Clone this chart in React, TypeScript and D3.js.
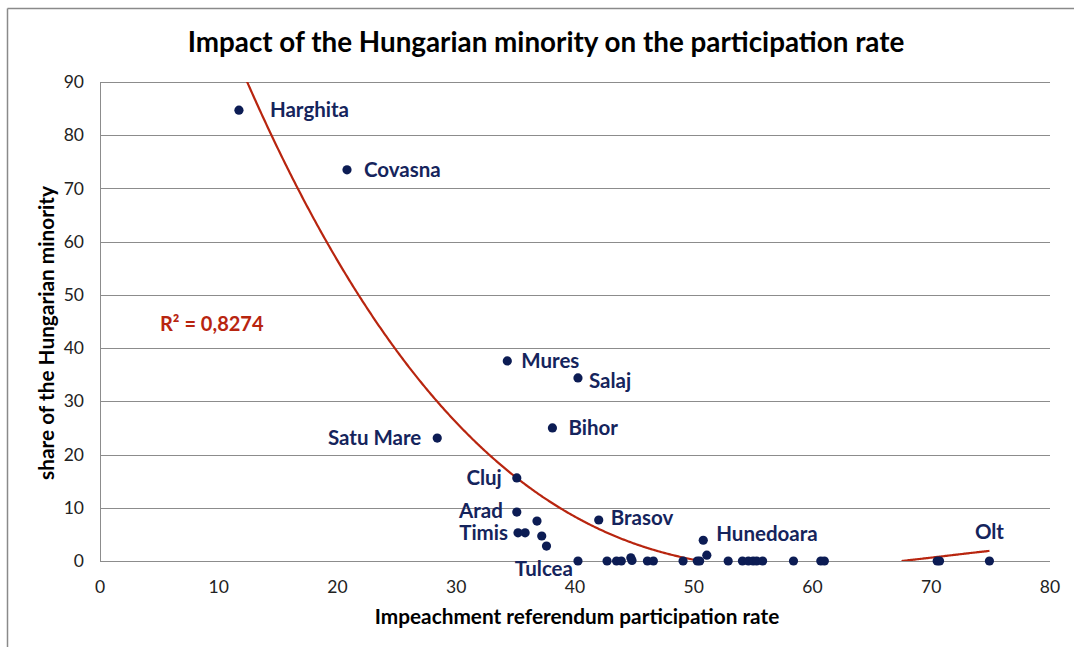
import React from 'react';
import * as d3 from 'd3';

// ---- data ----
const participation = [
  11.7, 20.8, 34.3, 40.25, 38.1, 28.4, 35.1, 35.1, 36.8, 42.0, 35.2, 35.8, 37.2, 37.6, 50.8, 51.1,
  40.25, 42.7, 43.5, 43.9, 44.7, 44.8, 46.1, 46.6, 49.1, 50.3, 50.5, 52.9, 54.1, 54.6, 55.0, 55.3,
  55.8, 58.4, 60.7, 61.0, 70.5, 70.7, 74.9,
];
const hungarianShare = [
  84.7, 73.5, 37.6, 34.4, 25.0, 23.1, 15.6, 9.2, 7.5, 7.7, 5.3, 5.3, 4.7, 2.8, 3.9, 1.1,
  0, 0, 0, 0, 0.6, 0.1, 0, 0, 0, 0, 0, 0, 0, 0, 0, 0,
  0, 0, 0, 0, 0, 0, 0,
];
const countyNames = [
  'Harghita', 'Covasna', 'Mures', 'Salaj', 'Bihor', 'Satu Mare', 'Cluj', 'Arad', '', 'Brasov', 'Timis', '', '', '', 'Hunedoara', '',
  'Tulcea', '', '', '', '', '', '', '', '', '', '', '', '', '', '', '',
  '', '', '', '', '', '', 'Olt',
];
const xTicks = [0, 10, 20, 30, 40, 50, 60, 70, 80];
const yTicks = [0, 10, 20, 30, 40, 50, 60, 70, 80, 90];
// polynomial (cubic) trendline, written as a * (x - r1)(x - r2)(x - r3)
const trendRoots = [50.6, 67.5, 95.4];
const trendA = -0.000515;
const rSquared = 'R² = 0,8274';

// ---- label placement (pixel offsets from the dot) ----
const labelPlacement: Record<string, { anchor: string; dx: number; dy: number }> = {
  Harghita: { anchor: 'start', dx: 31, dy: 0 },
  Covasna: { anchor: 'start', dx: 17, dy: 0 },
  Mures: { anchor: 'start', dx: 14, dy: 0 },
  Salaj: { anchor: 'start', dx: 11, dy: 3 },
  Bihor: { anchor: 'start', dx: 16, dy: 0 },
  'Satu Mare': { anchor: 'end', dx: -16, dy: 0 },
  Cluj: { anchor: 'end', dx: -15, dy: 0 },
  Arad: { anchor: 'end', dx: -14, dy: -1 },
  Timis: { anchor: 'end', dx: -10, dy: 0 },
  Brasov: { anchor: 'start', dx: 12, dy: -2 },
  Hunedoara: { anchor: 'start', dx: 13, dy: -6 },
  Tulcea: { anchor: 'end', dx: -5, dy: 7.5 },
  Olt: { anchor: 'middle', dx: 0, dy: -29 },
};

const W = 1074;
const H = 647;
const M = { left: 100, right: 1050, top: 82, bottom: 561 };
const FONT = 'Lato, "Open Sans", sans-serif';

export default function App() {
  const x = d3.scaleLinear().domain([0, 80]).range([M.left, M.right]);
  const y = d3.scaleLinear().domain([0, 90]).range([M.bottom, M.top]);

  const trend = (v: number) => trendA * (v - trendRoots[0]) * (v - trendRoots[1]) * (v - trendRoots[2]);
  const xMin = d3.min(participation) as number;
  const xMax = d3.max(participation) as number;
  const samples = d3.range(xMin, xMax, 0.1).concat([xMax]);
  const leftPart = samples.filter((v) => trend(v) >= 0 && v < trendRoots[0] + 0.5);
  const rightPart = samples.filter((v) => trend(v) >= 0 && v > trendRoots[1] - 0.5);
  const line = d3
    .line<number>()
    .x((v) => x(v))
    .y((v) => y(Math.max(0, trend(v))))
    .curve(d3.curveLinear);

  const gridColor = '#8c8c8c';
  const dotColor = '#0c1c54';
  const labelColor = '#15245c';
  const red = '#b8250f';
  const labelSize = 20.5;

  return (
    <svg width={W} height={H} style={{ position: 'absolute', left: 0, top: 0, background: '#fff' }}>
      <defs>
        <clipPath id="plotClip">
          <rect x={M.left} y={M.top} width={M.right - M.left} height={M.bottom - M.top} />
        </clipPath>
      </defs>
      {/* outer frame */}
      <line x1={7.5} x2={W} y1={8.5} y2={8.5} stroke="#8a8a8a" strokeWidth={1.5} />
      <line x1={7.5} x2={7.5} y1={8.5} y2={H} stroke="#8a8a8a" strokeWidth={1.5} />

      {/* title */}
      <text x={546} y={42} dy="0.35em" textAnchor="middle" fontFamily={FONT} fontWeight="bold" fontSize={27.8} fill="#000">
        Impact of the Hungarian minority on the participation rate
      </text>

      {/* gridlines */}
      {yTicks.map((t) => (
        <line key={'g' + t} x1={M.left} x2={M.right} y1={Math.round(y(t)) + 0.5} y2={Math.round(y(t)) + 0.5} stroke={gridColor} strokeWidth={1} />
      ))}
      <line x1={M.left + 0.5} x2={M.left + 0.5} y1={M.top} y2={M.bottom} stroke={gridColor} strokeWidth={1} />

      {/* y tick labels */}
      {yTicks.map((t) => (
        <text key={'y' + t} x={84} y={y(t)} dy="0.35em" textAnchor="end" fontFamily={FONT} fontSize={17.5} fill="#222">
          {t}
        </text>
      ))}
      {/* x tick labels */}
      {xTicks.map((t) => (
        <text key={'x' + t} x={x(t)} y={587} dy="0.35em" textAnchor="middle" fontFamily={FONT} fontSize={17.5} fill="#222">
          {t}
        </text>
      ))}

      {/* axis titles */}
      <text x={577} y={617} dy="0.35em" textAnchor="middle" fontFamily={FONT} fontWeight="bold" fontSize={20.8} fill="#000">
        Impeachment referendum participation rate
      </text>
      <text
        transform={`translate(47,333) rotate(-90)`}
        dy="0.35em"
        textAnchor="middle"
        fontFamily={FONT}
        fontWeight="bold"
        fontSize={20.8}
        fill="#000"
      >
        share of the Hungarian minority
      </text>

      {/* trendline */}
      <g clipPath="url(#plotClip)">
        <path d={line(leftPart) || ''} fill="none" stroke={red} strokeWidth={2.2} />
        <path d={line(rightPart) || ''} fill="none" stroke={red} strokeWidth={2.2} />
      </g>
      <text x={160} y={324} dy="0.35em" fontFamily={FONT} fontWeight="bold" fontSize={20} fill={red}>
        {rSquared}
      </text>

      {/* points */}
      {participation.map((v, i) => (
        <circle key={'p' + i} cx={x(v)} cy={y(hungarianShare[i])} r={4.6} fill={dotColor} />
      ))}

      {/* labels */}
      {countyNames.map((name, i) => {
        if (!name) return null;
        const p = labelPlacement[name] || { anchor: 'start', dx: 12, dy: 0 };
        return (
          <text
            key={'l' + i}
            x={x(participation[i]) + p.dx}
            y={y(hungarianShare[i]) + p.dy}
            dy="0.35em"
            textAnchor={p.anchor}
            fontFamily={FONT}
            fontWeight="bold"
            fontSize={labelSize}
            fill={labelColor}
          >
            {name}
          </text>
        );
      })}
    </svg>
  );
}
